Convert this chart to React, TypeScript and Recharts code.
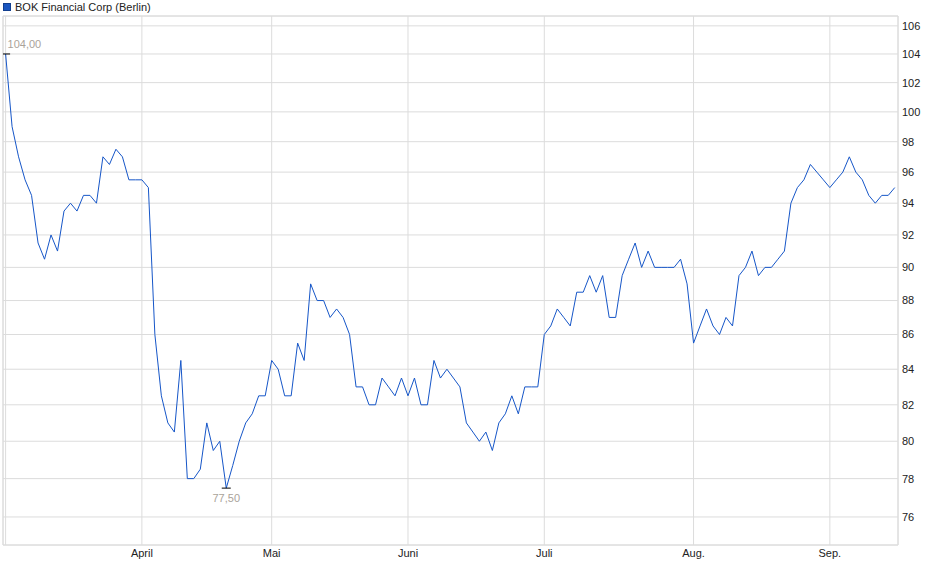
import React from "react";
import {
  LineChart,
  Line,
  XAxis,
  YAxis,
  CartesianGrid,
  ReferenceLine,
} from "recharts";

// Schlusskurse (EUR), ein Wert pro Handelstag
const prices = [
  104, 99, 97, 95.5, 94.5, 91.5, 90.5, 92, 91, 93.5,
  94, 93.5, 94.5, 94.5, 94, 97, 96.5, 97.5, 97, 95.5,
  95.5, 95.5, 95, 86, 82.5, 81, 80.5, 84.5, 78, 78,
  78.5, 81, 79.5, 80, 77.5, 78.7, 80, 81, 81.5, 82.5,
  82.5, 84.5, 84, 82.5, 82.5, 85.5, 84.5, 89, 88, 88,
  87, 87.5, 87, 86, 83, 83, 82, 82, 83.5, 83,
  82.5, 83.5, 82.5, 83.5, 82, 82, 84.5, 83.5, 84, 83.5,
  83, 81, 80.5, 80, 80.5, 79.5, 81, 81.5, 82.5, 81.5,
  83, 83, 83, 86, 86.5, 87.5, 87, 86.5, 88.5, 88.5,
  89.5, 88.5, 89.5, 87, 87, 89.5, 90.5, 91.5, 90, 91,
  90, 90, 90, 90, 90.5, 89, 85.5, 86.5, 87.5, 86.5,
  86, 87, 86.5, 89.5, 90, 91, 89.5, 90, 90, 90.5,
  91, 94, 95, 95.5, 96.5, 96, 95.5, 95, 95.5, 96,
  97, 96, 95.5, 94.5, 94, 94.5, 94.5, 95,
];

// Monatsanfang als Index in prices
const monthTicks = [0, 21, 41, 62, 83, 106, 127];
const monthLabels = ["", "April", "Mai", "Juni", "Juli", "Aug.", "Sep."];

const yTicks = [76, 78, 80, 82, 84, 86, 88, 90, 92, 94, 96, 98, 100, 102, 104, 106];

const data = prices.map((p, i) => ({ i, p }));

const maxIdx = prices.indexOf(Math.max(...prices));
const minIdx = prices.indexOf(Math.min(...prices));

const FONT = "'Liberation Sans', Arial, sans-serif";
const GRID = "#dcdcdc";
const X_DOMAIN: [number, number] = [-0.4, 137.5];
const Y_DOMAIN: [number, number] = [74.57, 106.71];

const fmt = (v: number) => v.toFixed(2).replace(".", ",");

function ExtremeDot(props: any) {
  const { cx, cy, index } = props;
  if (index === maxIdx) {
    return (
      <g key={`d${index}`}>
        <line x1={cx - 4.5} x2={cx + 4.5} y1={cy} y2={cy} stroke="#000" />
        <text x={cx + 2} y={cy - 10} dy="0.35em" fontSize={11} fill="#aaa39a" fontFamily={FONT}>
          {fmt(prices[index])}
        </text>
      </g>
    );
  }
  if (index === minIdx) {
    return (
      <g key={`d${index}`}>
        <line x1={cx - 4.5} x2={cx + 4.5} y1={cy} y2={cy} stroke="#000" />
        <text x={cx} y={cy + 10} dy="0.35em" textAnchor="middle" fontSize={11} fill="#aaa39a" fontFamily={FONT}>
          {fmt(prices[index])}
        </text>
      </g>
    );
  }
  return <g key={`d${index}`} />;
}

export default function App() {
  return (
    <div style={{ position: "absolute", left: 0, top: 0, width: 940, height: 579, background: "#fff", fontFamily: FONT }}>
      <div style={{ position: "absolute", left: 3, top: 1, fontSize: 11, color: "#222", display: "flex", alignItems: "center", whiteSpace: "nowrap" }}>
        <span style={{ display: "inline-block", width: 6, height: 6, background: "#1a56c0", border: "1px solid #123f8f", marginRight: 4 }} />
        BOK Financial Corp (Berlin)
      </div>
      <LineChart width={940} height={579} data={data} margin={{ top: 16, right: 0, left: 3, bottom: 0 }}>
        <CartesianGrid stroke={GRID} />
        <XAxis
          dataKey="i"
          type="number"
          domain={X_DOMAIN}
          allowDataOverflow
          ticks={monthTicks}
          tickFormatter={(v: number) => monthLabels[monthTicks.indexOf(v)] ?? ""}
          interval={0}
          height={34}
          stroke={GRID}
          tickLine={false}
          tickSize={2}
          tickMargin={2}
          tick={{ fill: "#222", fontSize: 11, fontFamily: FONT }}
        />
        <YAxis
          orientation="right"
          scale="log"
          type="number"
          domain={Y_DOMAIN}
          allowDataOverflow
          ticks={yTicks}
          interval={0}
          width={42}
          stroke={GRID}
          tickLine={false}
          tickSize={2}
          tickMargin={2}
          tick={{ fill: "#222", fontSize: 11, fontFamily: FONT, textAnchor: "start" }}
        />
        <ReferenceLine y={Y_DOMAIN[1]} stroke={GRID} />
        <ReferenceLine x={X_DOMAIN[0]} stroke={GRID} />
        <Line
          dataKey="p"
          type="linear"
          stroke="#1656c8"
          strokeWidth={1}
          dot={ExtremeDot}
          activeDot={false}
          isAnimationActive={false}
        />
      </LineChart>
    </div>
  );
}
